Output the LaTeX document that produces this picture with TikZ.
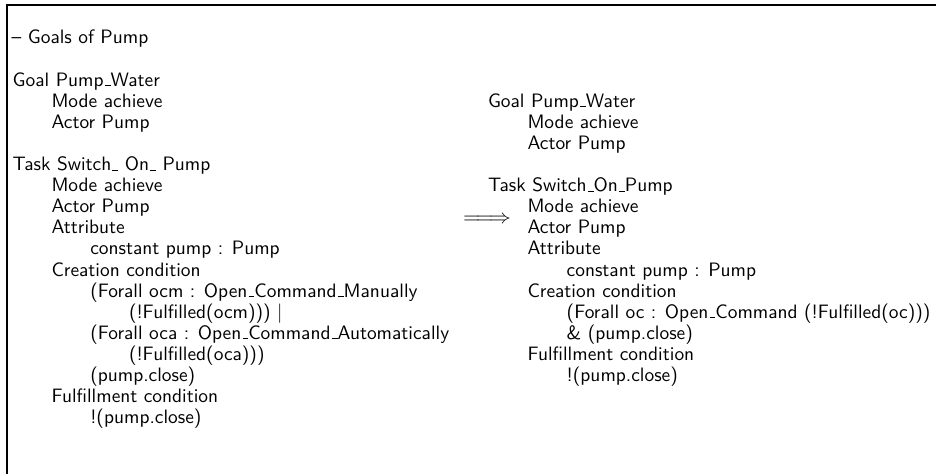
\documentclass[tikz,border=0pt]{standalone}
\usepackage{fontspec}
\newcommand\rowy[1]{44+21.1*#1}
% short baseline rule used as the underscore
\newcommand\usc{\leavevmode\kern.06em\vbox{\hrule width.3em height 0.45pt}}
\tikzset{
  txt/.style={anchor=base west, inner sep=0pt, outer sep=0pt,
    font=\sffamily\fontsize{9.7}{10.5}\selectfont},
  frame/.style={line width=0.6pt, black}
}
\begin{document}
\begin{tikzpicture}[x=0.5pt, y=-0.5pt]
  \useasboundingbox (0,0) rectangle (936,474);
  % open frame: top rule and left rule
  \coordinate (ftr) at (936,5);
  \coordinate (ftl) at (7,5);
  \coordinate (fbl) at (7,474);
  \draw[frame] (ftr) -- (ftl) -- (fbl);

  % indentation levels
  \def\La{12.7}\def\Lb{51.5}\def\Lc{90.3}\def\Ld{129}
  \def\Ra{488}\def\Rb{527.5}\def\Rc{566.7}

  % original specification
  \node[txt] (title)  at (11.7,{\rowy{0}})  {– Goals of Pump};
  \node[txt] (lgoal)  at (\La,{\rowy{2}})   {Goal Pump\usc Water};
  \node[txt] (lgmode) at (\Lb,{\rowy{3}})   {Mode achieve};
  \node[txt] (lgact)  at (\Lb,{\rowy{4}})   {Actor Pump};
  \node[txt] (ltask)  at (\La,{\rowy{6}})   {Task Switch\usc{} On\usc{} Pump};
  \node[txt] (ltmode) at (\Lb,{\rowy{7}})   {Mode achieve};
  \node[txt] (ltact)  at (\Lb,{\rowy{8}})   {Actor Pump};
  \node[txt] (ltattr) at (\Lb,{\rowy{9}})   {Attribute};
  \node[txt] (ltconst) at (\Lc,{\rowy{10}}) {constant pump : Pump};
  \node[txt] (ltcre)  at (\Lb,{\rowy{11}})  {Creation condition};
  \node[txt] (ltfa)   at (\Lc,{\rowy{12}})  {(Forall ocm : Open\usc Command\usc Manually};
  \node[txt] (ltfb)   at (\Ld,{\rowy{13}})  {(!Fulfilled(ocm))) |};
  \node[txt] (ltfc)   at (\Lc,{\rowy{14}})  {(Forall oca : Open\usc Command\usc Automatically};
  \node[txt] (ltfd)   at (\Ld,{\rowy{15}})  {(!Fulfilled(oca)))};
  \node[txt] (ltclose) at (\Lc,{\rowy{16}}) {(pump.close)};
  \node[txt] (ltful)  at (\Lb,{\rowy{17}})  {Fulfillment condition};
  \node[txt] (ltfulc) at (\Lc,{\rowy{18}})  {!(pump.close)};

  % rewriting arrow
  \node[inner sep=0pt, font=\fontsize{9.7}{10.5}\selectfont] (arrow) at (487,220)
    {\scalebox{1.08}[1]{$\Relbar\joinrel\Relbar\joinrel\Rightarrow$}};

  % simplified specification
  \node[txt] (rgoal)  at (\Ra,{\rowy{3}})   {Goal Pump\usc Water};
  \node[txt] (rgmode) at (\Rb,{\rowy{4}})   {Mode achieve};
  \node[txt] (rgact)  at (\Rb,{\rowy{5}})   {Actor Pump};
  \node[txt] (rtask)  at (\Ra,{\rowy{7}})   {Task Switch\usc On\usc Pump};
  \node[txt] (rtmode) at (\Rb,{\rowy{8}})   {Mode achieve};
  \node[txt] (rtact)  at (\Rb,{\rowy{9}})   {Actor Pump};
  \node[txt] (rtattr) at (\Rb,{\rowy{10}})  {Attribute};
  \node[txt] (rtconst) at (\Rc,{\rowy{11}}) {constant pump : Pump};
  \node[txt] (rtcre)  at (\Rb,{\rowy{12}})  {Creation condition};
  \node[txt] (rtfa)   at (\Rc,{\rowy{13}})  {(Forall oc : Open\usc Command (!Fulfilled(oc)))};
  \node[txt] (rtfb)   at (\Rc,{\rowy{14}})  {\& (pump.close)};
  \node[txt] (rtful)  at (\Rb,{\rowy{15}})  {Fulfillment condition};
  \node[txt] (rtfulc) at (\Rc,{\rowy{16}})  {!(pump.close)};
\end{tikzpicture}
\end{document}
